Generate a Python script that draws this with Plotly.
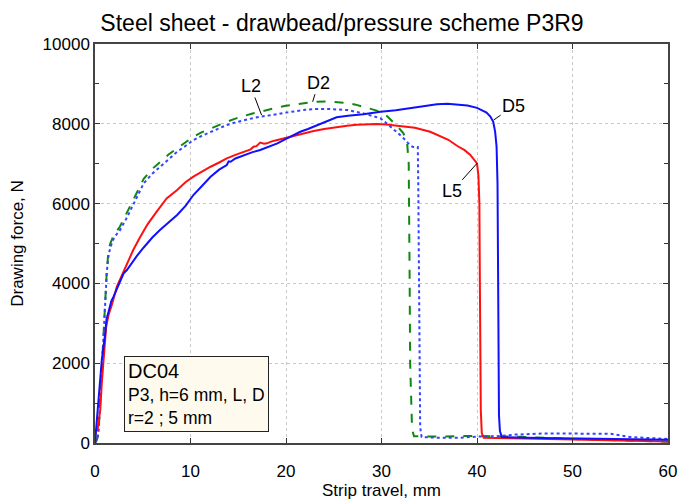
import plotly.graph_objects as go

# ---- data ----
d2_x = [0, 0.2, 0.37, 0.55, 0.71, 0.89, 1.07, 1.24, 1.42, 1.6, 2.0, 2.6, 3.3, 4.2, 5.1, 6.0, 6.8, 7.7, 8.6, 9.5,
        10.3, 11.2, 12.1, 13.0, 13.8, 14.7, 15.6, 16.5, 17.3, 18.2, 19.1, 20.0, 20.8, 22.0, 22.9, 24.5, 26.4,
        27.3, 28.1, 29.0, 29.9, 30.6, 31.2, 31.8, 32.3, 32.7, 32.85, 32.9, 32.95, 33.0, 33.1, 33.2, 33.4, 34,
        36, 40, 45, 50, 55, 60]
d2_y = [0, 80, 243, 1078, 1912, 2750, 3584, 4335, 4837, 5000, 5230, 5420, 5756, 6200, 6620, 6870, 7050, 7230,
        7385, 7540, 7676, 7790, 7886, 7975, 8052, 8130, 8203, 8260, 8303, 8360, 8410, 8450, 8475, 8520, 8553,
        8560, 8520, 8480, 8430, 8370, 8303, 8190, 8052, 7900, 7761, 7468, 7000, 6000, 4000, 2000, 800, 350,
        170, 170, 160, 180, 150, 100, 60, 30]

l2_x = [0, 0.2, 0.37, 0.55, 0.71, 0.89, 1.07, 1.24, 1.42, 1.6, 2.0, 2.6, 3.3, 4.2, 5.1, 6.0, 6.8, 7.7, 8.6, 9.5,
        10.3, 11.2, 12.1, 13.0, 13.8, 14.7, 15.6, 16.5, 17.3, 18.2, 19.1, 20.0, 20.8, 22.0, 22.9, 24.5, 26.4,
        27.3, 28.1, 29.0, 29.9, 30.6, 31.2, 31.8, 32.3, 32.7, 33.0, 33.3, 33.8, 33.85, 33.9, 33.95, 34.05, 34.2,
        36, 38, 40, 42, 44, 47, 50, 54, 56, 60]
l2_y = [0, 80, 243, 1050, 1880, 2720, 3550, 4300, 4700, 4900, 5150, 5330, 5631, 6080, 6508, 6750, 6924, 7120,
        7300, 7450, 7593, 7700, 7800, 7890, 7969, 8035, 8094, 8140, 8178, 8205, 8240, 8280, 8310, 8350, 8370,
        8370, 8345, 8310, 8262, 8200, 8136, 8000, 7886, 7750, 7640, 7551, 7460, 7420, 7420, 6500, 4000, 1500,
        400, 150, 130, 130, 160, 170, 210, 240, 240, 230, 150, 100]

l5_x = [0, 0.1, 0.25, 0.4, 0.55, 0.71, 0.89, 1.17, 1.42, 1.76, 2.29, 2.99, 3.5, 4.0, 4.7, 5.5, 6.4, 7.5, 8.6,
        9.5, 10.3, 11.2, 12.1, 13.0, 13.8, 14.7, 15.6, 16.3, 16.6, 16.9, 17.3, 17.7, 18.0, 18.5, 19.1, 20.0,
        20.8, 22.0, 22.9, 24.0, 25.3, 26.4, 27.4, 28.5, 29.5, 30.5, 31.6, 32.7, 33.5, 35.1, 36.1, 37.0, 37.9,
        38.7, 39.3, 39.7, 40.0, 40.15, 40.25, 40.3, 40.35, 40.4, 40.5, 40.7, 45, 50, 55, 60]
l5_y = [0, 350, 300, 550, 827, 1496, 2163, 2914, 3208, 3458, 3917, 4293, 4586, 4837, 5150, 5480, 5780, 6130,
        6340, 6540, 6674, 6810, 6924, 7030, 7134, 7220, 7300, 7360, 7425, 7440, 7530, 7500, 7510, 7560, 7593,
        7650, 7700, 7770, 7819, 7870, 7920, 7952, 7975, 7990, 7994, 7980, 7952, 7930, 7900, 7800, 7700, 7600,
        7450, 7340, 7220, 7100, 7009, 6700, 6000, 4000, 2000, 800, 250, 130, 110, 90, 60, 40]

d5_x = [0, 0.1, 0.2, 0.4, 0.71, 1.07, 1.2, 1.42, 1.7, 1.94, 2.3, 2.64, 3.0, 3.34, 3.8, 4.39, 5.1, 6.0, 6.8,
        7.7, 8.6, 9.5, 10.3, 11.2, 12.1, 13.0, 13.8, 14.0, 14.2, 14.7, 15.6, 16.5, 17.3, 18.2, 19.1, 20.0,
        20.8, 21.5, 22.3, 22.9, 23.8, 24.6, 25.3, 26.5, 28.1, 29.9, 31.5, 33.3, 34.5, 35.8, 36.9, 37.9, 39.0,
        40.0, 40.6, 41.0, 41.4, 41.7, 41.9, 42.05, 42.15, 42.2, 42.25, 42.3, 42.4, 42.6, 45, 50, 55, 60]
d5_y = [0, 300, 410, 1000, 2080, 2750, 3100, 3290, 3550, 3667, 3880, 4085, 4250, 4335, 4500, 4690, 4900, 5150,
        5338, 5520, 5714, 5950, 6215, 6440, 6674, 6850, 6967, 7060, 7050, 7130, 7217, 7290, 7343, 7430, 7510,
        7620, 7720, 7800, 7870, 7927, 8020, 8094, 8162, 8200, 8237, 8303, 8340, 8403, 8440, 8487, 8500, 8480,
        8460, 8400, 8340, 8280, 8180, 8050, 7800, 7425, 6500, 4000, 2000, 700, 300, 150, 130, 110, 100, 80]

x_ticks = [0, 10, 20, 30, 40, 50, 60]
y_ticks = [0, 2000, 4000, 6000, 8000, 10000]
y_tick_text = ["0", "2000", "4000", "6000", "8000", "10000"]

FONT = "Liberation Sans, Arial, sans-serif"

fig = go.Figure()
fig.add_trace(go.Scatter(x=d2_x, y=d2_y, mode="lines", name="D2",
                         line=dict(color="#118811", width=2, dash="dash")))
fig.add_trace(go.Scatter(x=l2_x, y=l2_y, mode="lines", name="L2",
                         line=dict(color="#3344ff", width=2, dash="dot")))
fig.add_trace(go.Scatter(x=l5_x, y=l5_y, mode="lines", name="L5",
                         line=dict(color="#ff1010", width=2)))
fig.add_trace(go.Scatter(x=d5_x, y=d5_y, mode="lines", name="D5",
                         line=dict(color="#1010ff", width=2)))

labels = [
    dict(text="L2", x=17.44, y=8220, ax=-11, ay=-29),
    dict(text="D2", x=22.79, y=8553, ax=6, ay=-19),
    dict(text="D5", x=41.74, y=8094, ax=20, ay=-14),
    dict(text="L5", x=40.0, y=7009, ax=-25, ay=28),
]
for a in labels:
    fig.add_annotation(x=a["x"], y=a["y"], ax=a["ax"], ay=a["ay"], text=a["text"],
                       showarrow=True, arrowhead=0, arrowwidth=1, arrowcolor="black",
                       standoff=0, font=dict(family=FONT, size=18, color="black"))

fig.add_annotation(xref="paper", yref="paper", x=(124 - 95) / 573, y=(443 - 356) / 399,
                   xanchor="left", yanchor="top", showarrow=False, align="left",
                   text="<span style='font-size:20px'>DC04</span><br>P3, h=6 mm, L, D<br>r=2 ; 5 mm",
                   font=dict(family=FONT, size=17.5, color="black"),
                   bgcolor="#fffaee", bordercolor="#222222", borderwidth=1, borderpad=3)

fig.update_layout(
    width=679, height=502,
    margin=dict(l=95, r=11, t=44, b=59, autoexpand=False),
    paper_bgcolor="white", plot_bgcolor="white",
    showlegend=False,
    font=dict(family=FONT, size=16, color="black"),
    title=dict(text="Steel sheet - drawbead/pressure scheme P3R9",
               x=(342 - 95) / 573, xref="paper", xanchor="center",
               y=1 - 23 / 502, yref="container", yanchor="middle",
               font=dict(family=FONT, size=23, color="black")),
)
fig.update_xaxes(range=[0, 60], tickvals=x_ticks, ticks="inside", ticklen=5, tickcolor="#333",
                 showline=True, linecolor="#444", linewidth=1.5, mirror="ticks", automargin=False,
                 showgrid=True, gridcolor="#c8c8c8", griddash="dot", gridwidth=1,
                 zeroline=False, tickfont=dict(size=17), ticklabelstandoff=12,
                 title=dict(text="Strip travel, mm", font=dict(size=17), standoff=0))
fig.update_yaxes(range=[0, 10000], tickvals=y_ticks, ticktext=y_tick_text, ticks="inside", ticklen=5,
                 tickcolor="#333", automargin=False,
                 showline=True, linecolor="#444", linewidth=1.5, mirror="ticks",
                 showgrid=True, gridcolor="#c8c8c8", griddash="dot", gridwidth=1,
                 zeroline=False, tickfont=dict(size=17),
                 minor=dict(dtick=1000, ticks="inside", ticklen=4, tickcolor="#333", showgrid=False),
                 title=dict(text="Drawing force, N", font=dict(size=17), standoff=15))

fig.write_html("out.html")
